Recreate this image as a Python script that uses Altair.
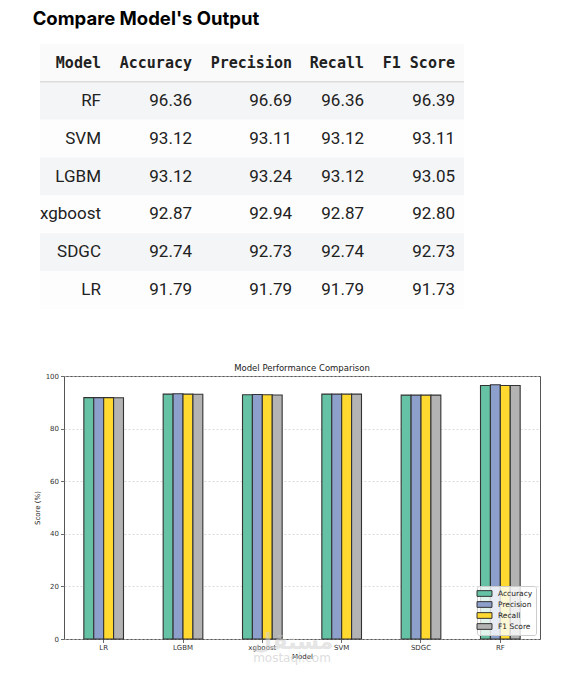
import altair as alt
import pandas as pd

# ---- data ----
models = ["RF", "SVM", "LGBM", "xgboost", "SDGC", "LR"]
accuracy = [96.36, 93.12, 93.12, 92.87, 92.74, 91.79]
precision = [96.69, 93.11, 93.24, 92.94, 92.73, 91.79]
recall = [96.36, 93.12, 93.12, 92.87, 92.74, 91.79]
f1_score = [96.39, 93.11, 93.05, 92.80, 92.73, 91.73]
metrics = ["Accuracy", "Precision", "Recall", "F1 Score"]
columns = ["Model"] + metrics
bar_order = ["LR", "LGBM", "xgboost", "SVM", "SDGC", "RF"]
y_ticks = [0, 20, 40, 60, 80, 100]
watermark = ["مستقل", "mostaql.com"]

series = dict(zip(metrics, [accuracy, precision, recall, f1_score]))
colors = ["#66c2a5", "#8da0cb", "#ffd92f", "#b3b3b3"]

# ---- table frames ----
row_keys = ["header"] + models
header_df = pd.DataFrame({"row": ["header"] * len(columns),
                          "ci": list(range(len(columns))),
                          "label": columns})
body = []
for i, m in enumerate(models):
    body.append({"row": m, "ci": 0, "label": m})
    for j, met in enumerate(metrics):
        body.append({"row": m, "ci": j + 1, "label": f"{series[met][i]:.2f}"})
body_df = pd.DataFrame(body)
stripe_df = pd.DataFrame({"row": row_keys,
                          "shade": ["head"] + ["odd" if i % 2 == 0 else "even" for i in range(len(models))]})
rule_df = pd.DataFrame({"row": ["header"]})

yscale = alt.Scale(domain=row_keys, paddingInner=0, paddingOuter=0)
xscale = alt.Scale(domain=[0, 1, 2, 3, 4], range=[37, 128, 228, 300, 391], nice=False, zero=False)

bg = alt.Chart(stripe_df).mark_rect().encode(
    y=alt.Y("row:N", scale=yscale, axis=None, sort=row_keys),
    x=alt.value(-24), x2=alt.value(400),
    fill=alt.Fill("shade:N", scale=alt.Scale(domain=["head", "odd", "even"],
                                             range=["#fafafa", "#f4f5f6", "#fdfdfd"]), legend=None),
)
hrule = alt.Chart(rule_df).mark_rule(color="#dcdcdc", strokeWidth=1.5).encode(
    y=alt.Y("row:N", scale=yscale, axis=None, bandPosition=1, sort=row_keys),
    x=alt.value(-24), x2=alt.value(400),
)
head_text = alt.Chart(header_df).mark_text(
    align="right", baseline="middle", font="DejaVu Sans Mono", fontWeight="bold",
    fontSize=15, color="#212121").encode(
    y=alt.Y("row:N", scale=yscale, axis=None, sort=row_keys),
    x=alt.X("ci:Q", scale=xscale, axis=None),
    text="label:N",
)
body_text = alt.Chart(body_df).mark_text(
    align="right", baseline="middle", font="Roboto", fontSize=17, color="#212121").encode(
    y=alt.Y("row:N", scale=yscale, axis=None, sort=row_keys),
    x=alt.X("ci:Q", scale=xscale, axis=None),
    text="label:N",
)
table = alt.layer(bg, hrule, head_text, body_text).properties(
    width=400, height=265, view=alt.ViewBackground(stroke="transparent"))

# ---- bar chart ----
bar_rows = []
for m in bar_order:
    i = models.index(m)
    for met in metrics:
        bar_rows.append({"Model": m, "Metric": met, "Score": series[met][i]})
bar_df = pd.DataFrame(bar_rows)

axis_common = dict(labelFont="DejaVu Sans", labelFontSize=7, labelColor="#333333",
                   tickSize=3.5, tickColor="#444444", tickWidth=0.8,
                   domain=False, titleFont="DejaVu Sans", titleFontSize=7,
                   titleFontWeight="normal", titleColor="#222222")

bars = alt.Chart(bar_df).mark_bar(stroke="#333333", strokeWidth=1.1).encode(
    x=alt.X("Model:N", sort=bar_order,
            scale=alt.Scale(paddingInner=0.5, paddingOuter=0.25),
            axis=alt.Axis(title="Model", labelAngle=0, grid=False, titlePadding=2,
                          labelPadding=1, **axis_common)),
    xOffset=alt.XOffset("Metric:N", sort=metrics, scale=alt.Scale(paddingInner=0, paddingOuter=0)),
    y=alt.Y("Score:Q", scale=alt.Scale(domain=[0, 100], nice=False),
            axis=alt.Axis(title="Score (%)", values=y_ticks, grid=True, gridColor="#cccccc",
                          gridDash=[2, 2], gridWidth=0.7, titlePadding=5, labelPadding=2,
                          **axis_common)),
    color=alt.Color("Metric:N", sort=metrics,
                    scale=alt.Scale(domain=metrics, range=colors),
                    legend=alt.Legend(title=None, orient="bottom-right", offset=4,
                                      symbolType="M-2,-0.76H2V0.76H-2Z", symbolSize=56,
                                      symbolStrokeColor="#333333", symbolStrokeWidth=1,
                                      labelFont="DejaVu Sans", labelFontSize=7.5,
                                      labelColor="#222222", labelOffset=9, rowPadding=0,
                                      padding=3, fillColor="rgba(255,255,255,0.8)",
                                      strokeColor="#cccccc", cornerRadius=2)),
)

wm_df = pd.DataFrame({"t": watermark})
wm1 = alt.Chart(wm_df.iloc[[0]]).mark_text(
    font="DejaVu Sans", fontSize=22, fontWeight="bold", color="#d0d0d0", opacity=0.55).encode(
    text="t:N", x=alt.value(229), y=alt.value(266))
wm2 = alt.Chart(wm_df.iloc[[1]]).mark_text(
    font="DejaVu Sans", fontSize=12, color="#d0d0d0", opacity=0.7).encode(
    text="t:N", x=alt.value(228), y=alt.value(282))

bar_chart = alt.layer(bars, wm1, wm2).properties(
    width=476, height=263,
    title=alt.TitleParams("Model Performance Comparison", font="DejaVu Sans", fontSize=8.5,
                          fontWeight="normal", color="#222222", offset=0, anchor="middle"),
    view=alt.ViewBackground(stroke="#555555", strokeWidth=1),
)

chart = alt.vconcat(table, bar_chart, spacing=53).properties(
    title=alt.TitleParams("Compare Model's Output", anchor="start", font="Inter",
                          fontSize=18.5, fontWeight=700, color="#000000", offset=15),
    padding={"left": 24, "top": 2, "right": 5, "bottom": 5},
).resolve_scale(color="independent", fill="independent").resolve_legend(
    color="independent").configure(background="white")

chart.save("out.html", embed_options={"renderer": "svg", "actions": False})
